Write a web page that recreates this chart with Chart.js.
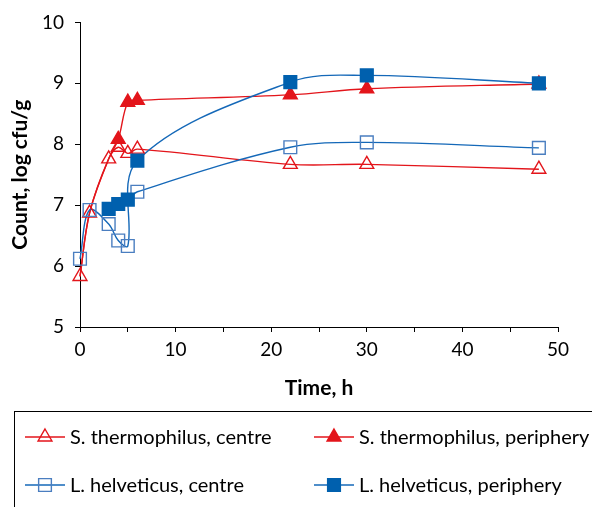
<!DOCTYPE html>
<html>
<head>
<meta charset="utf-8">
<script src="https://cdn.jsdelivr.net/npm/chart.js@4.4.1/dist/chart.umd.min.js"></script>
<style>
  html, body { margin: 0; padding: 0; background: #fff; }
  canvas { display: block; }
</style>
</head>
<body>
<canvas id="countChart" width="592" height="507"></canvas>
<script>
// Sampling times, h
const HOURS = [0, 1, 3, 4, 5, 6, 22, 30, 48];

// Counts, log cfu/g (null = no marker for that time)
const ST_CENTRE    = [5.83, 6.87, 7.76, 7.95, 7.85, 7.92, 7.67, 7.67, 7.59];
const ST_PERIPHERY = [null, null, null, 8.08, 8.69, 8.72, 8.81, 8.91, 8.99];
const LH_CENTRE    = [6.12, 6.92, 6.69, 6.42, 6.33, 7.22, 7.95, 8.03, 7.94];
const LH_PERIPHERY = [null, null, 6.94, 7.02, 7.09, 7.73, 9.02, 9.13, 9.00];

// Axis ticks
const X_LABELS = [0, 10, 20, 30, 40, 50];
const Y_LABELS = [5, 6, 7, 8, 9, 10];

const RED = '#e3151b';
const BLUE_FILL = '#0060ae';
const BLUE_OPEN = '#4a7ec0';
const BLUE_LINE = '#1468b8';

Chart.defaults.font.family = 'Lato';
Chart.defaults.color = '#000';

// Build {x, y} points, dropping missing values
function toPoints(values) {
    return HOURS.map((h, i) => ({ x: h, y: values[i] })).filter(p => p.y !== null);
}

// Curve that follows `first` up to index `at`, then `second`
function joinAt(first, second, at) {
    return first.map((v, i) => i < at ? v : second[i]);
}

// Smoothed curves as drawn: periphery curves start on the shared early readings,
// and the two L. helveticus curves cross over between 5 h and 6 h
const ST_CURVE_C = ST_CENTRE;
const ST_CURVE_P = joinAt(ST_CENTRE, ST_PERIPHERY, 3);
const LH_CURVE_A = joinAt(LH_CENTRE, LH_PERIPHERY, 5);
const LH_CURVE_B = joinAt(LH_PERIPHERY, LH_CENTRE, 5);

function markerSet(label, values, style, radius, border, fill) {
    return {
        label: label,
        data: toPoints(values),
        showLine: false,
        pointStyle: style,
        pointRadius: radius,
        pointHoverRadius: radius,
        pointBorderColor: border,
        pointBackgroundColor: fill,
        pointBorderWidth: 1.4,
        clip: false
    };
}

function curveSet(values, color) {
    return {
        data: toPoints(values),
        borderColor: color,
        borderWidth: 1.4,
        pointRadius: 0,
        tension: 0.35,
        fill: false,
        clip: false
    };
}

// Legend entries (drawn by the legendBox plugin)
const LEGEND_ITEMS = [
    { text: 'S. thermophilus, centre',    line: RED,       style: 'triangle', radius: 8, border: RED,       fill: 'rgba(0,0,0,0)', col: 0, row: 0 },
    { text: 'S. thermophilus, periphery', line: RED,       style: 'triangle', radius: 8, border: RED,       fill: RED,             col: 1, row: 0 },
    { text: 'L. helveticus, centre',      line: BLUE_LINE, style: 'rect',     radius: 9, border: BLUE_OPEN, fill: 'rgba(0,0,0,0)', col: 0, row: 1 },
    { text: 'L. helveticus, periphery',   line: BLUE_LINE, style: 'rect',     radius: 9, border: BLUE_FILL, fill: BLUE_FILL,       col: 1, row: 1 }
];
const LEGEND_COLS = [25, 314];
const LEGEND_ROWS = [437, 485];

const legendBox = {
    id: 'legendBox',
    afterDraw(chart) {
        const ctx = chart.ctx;
        ctx.save();
        ctx.strokeStyle = '#000';
        ctx.lineWidth = 1;
        ctx.strokeRect(14.5, 411.5, 600, 120);

        ctx.font = '20px Lato';
        ctx.textBaseline = 'middle';
        ctx.textAlign = 'left';

        LEGEND_ITEMS.forEach(item => {
            const x = LEGEND_COLS[item.col];
            const y = LEGEND_ROWS[item.row];
            ctx.strokeStyle = item.line;
            ctx.lineWidth = 1.4;
            ctx.beginPath();
            ctx.moveTo(x, y);
            ctx.lineTo(x + 40, y);
            ctx.stroke();

            ctx.strokeStyle = item.border;
            ctx.fillStyle = item.fill;
            Chart.helpers.drawPoint(ctx, {
                pointStyle: item.style, radius: item.radius, rotation: 0, borderWidth: 1.4
            }, x + 20, y);

            ctx.fillStyle = '#000';
            ctx.fillText(item.text, x + 45, y + 1);
        });
        ctx.restore();
    }
};

const ctx = document.getElementById('countChart').getContext('2d');

new Chart(ctx, {
    type: 'line',
    data: {
        datasets: [
            // markers first so they sit on top of the curves
            markerSet('L. helveticus, periphery', LH_PERIPHERY, 'rect', 9, BLUE_FILL, BLUE_FILL),
            markerSet('S. thermophilus, periphery', ST_PERIPHERY, 'triangle', 8, RED, RED),
            markerSet('L. helveticus, centre', LH_CENTRE, 'rect', 9, BLUE_OPEN, 'rgba(0,0,0,0)'),
            markerSet('S. thermophilus, centre', ST_CENTRE, 'triangle', 8, RED, 'rgba(0,0,0,0)'),
            curveSet(LH_CURVE_A, BLUE_LINE),
            curveSet(LH_CURVE_B, BLUE_LINE),
            curveSet(ST_CURVE_P, RED),
            curveSet(ST_CURVE_C, RED)
        ]
    },
    options: {
        responsive: false,
        animation: false,
        events: [],
        layout: { padding: { left: 0, right: 34, top: 15, bottom: 100 } },
        plugins: {
            legend: { display: false },
            tooltip: { enabled: false }
        },
        scales: {
            x: {
                type: 'linear',
                min: X_LABELS[0],
                max: X_LABELS[X_LABELS.length - 1],
                afterFit: scale => { scale.height = 80; },
                grid: { drawOnChartArea: false, drawTicks: true, tickLength: 5, color: '#000' },
                border: { color: '#000', width: 1 },
                ticks: {
                    stepSize: 5,
                    autoSkip: false,
                    maxRotation: 0,
                    padding: 6,
                    font: { size: 19 },
                    callback: v => X_LABELS.includes(v) ? v : ''
                },
                title: {
                    display: true,
                    text: 'Time, h',
                    font: { size: 21, weight: 'bold' },
                    padding: { top: 0, bottom: 6 }
                }
            },
            y: {
                min: Y_LABELS[0],
                max: Y_LABELS[Y_LABELS.length - 1],
                afterFit: scale => { scale.width = 80; },
                grid: { drawOnChartArea: false, drawTicks: true, tickLength: 5, color: '#000' },
                border: { color: '#000', width: 1 },
                ticks: {
                    stepSize: 1,
                    padding: 11,
                    font: { size: 19 },
                    callback: v => Y_LABELS.includes(v) ? v : ''
                },
                title: {
                    display: true,
                    text: 'Count, log cfu/g',
                    font: { size: 21, weight: 'bold' },
                    padding: { top: 8, bottom: 0 }
                }
            }
        }
    },
    plugins: [legendBox]
});
</script>
</body>
</html>
